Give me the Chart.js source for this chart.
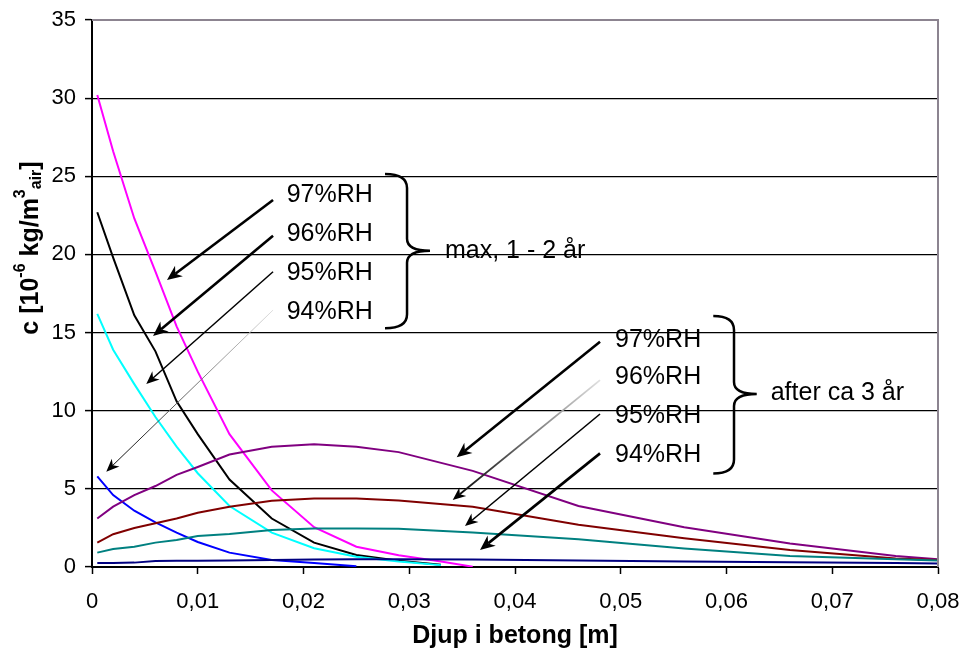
<!DOCTYPE html>
<html><head><meta charset="utf-8">
<script src="https://cdn.jsdelivr.net/npm/chart.js@4/dist/chart.umd.min.js"></script>
<style>html,body{margin:0;padding:0;background:#fff}#wrap{width:964px;height:655px;position:relative}</style>
</head><body><div id="wrap"><canvas id="c" width="964" height="655"></canvas></div>
<script>
// ---- data (depth in m, concentration in 10^-6 kg/m3 air) ----
const depthMax   = [0.0005,0.002,0.004,0.006,0.008,0.010,0.013,0.017,0.021,0.025,0.029,0.033,0.036];
const rh97Max    = [30.2,26.6,22.3,18.9,15.4,12.5,8.5,4.9,2.55,1.3,0.75,0.35,0.02];
const depthMax2  = [0.0005,0.002,0.004,0.006,0.008,0.010,0.013,0.017,0.021,0.025,0.029,0.033];
const rh96Max    = [22.7,19.8,16.1,13.8,10.6,8.5,5.6,3.1,1.56,0.77,0.4,0.15];
const rh95Max    = [16.2,13.9,11.7,9.6,7.7,6.0,3.9,2.2,1.2,0.66,0.35,0.12];
const depthMax94 = [0.0005,0.002,0.004,0.006,0.008,0.010,0.013,0.017,0.021,0.025];
const rh94Max    = [5.8,4.6,3.6,2.85,2.2,1.6,0.92,0.45,0.25,0.05];
const depthLate  = [0.0005,0.002,0.004,0.006,0.008,0.010,0.013,0.017,0.021,0.025,0.029,0.036,0.046,0.056,0.066,0.076,0.08];
const rh97Late   = [3.1,3.86,4.6,5.18,5.9,6.4,7.2,7.7,7.85,7.7,7.35,6.15,3.9,2.55,1.5,0.7,0.5];
const rh96Late   = [1.56,2.1,2.5,2.8,3.1,3.47,3.86,4.24,4.39,4.39,4.25,3.86,2.7,1.84,1.09,0.55,0.45];
const rh95Late   = [0.92,1.15,1.3,1.56,1.73,1.98,2.11,2.37,2.47,2.47,2.45,2.2,1.77,1.19,0.7,0.49,0.42];
const rh94Late   = [0.25,0.25,0.28,0.38,0.4,0.4,0.42,0.45,0.48,0.5,0.5,0.48,0.42,0.35,0.3,0.25,0.22];
const rhLabels   = ["97%RH","96%RH","95%RH","94%RH"];
const groupLabels = ["max, 1 - 2 år","after ca 3 år"];
const xTicks = [0,0.01,0.02,0.03,0.04,0.05,0.06,0.07,0.08];

function pts(xs, ys){ return xs.map((x,i)=>({x:x,y:ys[i]})); }
function ds(label, xs, ys, color){
  return {label:label, data:pts(xs,ys), borderColor:color, backgroundColor:color,
          borderWidth:2, pointRadius:0, showLine:true, tension:0, fill:false};
}

// annotation geometry (data units)
const annot = {
  arrows: [
    {x1:0.01712,y1:23.48,x2:0.00709,y2:18.36,w:2.6,g:false},
    {x1:0.01712,y1:21.20,x2:0.00577,y2:14.78,w:2.6,g:false},
    {x1:0.01712,y1:18.89,x2:0.00513,y2:11.71,w:1.5,g:false},
    {x1:0.01712,y1:16.44,x2:0.00135,y2:6.10,w:1,g:true},
    {x1:0.04804,y1:14.41,x2:0.03449,y2:7.02,w:2.6,g:false},
    {x1:0.04804,y1:11.96,x2:0.03411,y2:4.29,w:1.8,g:true},
    {x1:0.04804,y1:9.79,x2:0.03527,y2:2.62,w:1.6,g:false},
    {x1:0.04804,y1:7.27,x2:0.03669,y2:1.09,w:2.6,g:false}
  ],
  labelsMax: {x:0.01841, ys:[23.8,21.3,18.8,16.3]},
  labelsLate:{x:0.04946, ys:[14.52,12.18,9.66,7.17]},
  groupPos: [{x:0.03338,y:20.24},{x:0.06418,y:11.13}],
  braces: [
    {x0:0.02771,x1:0.02979,xt:0.03196,yTop:25.14,yMid:20.24,yBot:15.27},
    {x0:0.05875,x1:0.06071,xt:0.06286,yTop:16.06,yMid:11.07,yBot:5.99}
  ]
};

const FONT = '"Liberation Sans", Arial, sans-serif';

function arrow(ctx, x1,y1,x2,y2,w,grad){
  const ang = Math.atan2(y2-y1, x2-x1);
  const L = w>2 ? 15 : 13, W = w>2 ? 6.5 : 5.5;
  const bx = x2 - Math.cos(ang)*L*0.7, by = y2 - Math.sin(ang)*L*0.7;
  ctx.save();
  if(grad){
    const g = ctx.createLinearGradient(x1,y1,x2,y2);
    g.addColorStop(0,'#e0e0e0'); g.addColorStop(1,'#000');
    ctx.strokeStyle = g;
  } else ctx.strokeStyle = '#000';
  ctx.lineWidth = w;
  ctx.beginPath(); ctx.moveTo(x1,y1); ctx.lineTo(bx,by); ctx.stroke();
  ctx.fillStyle='#000';
  const cx = x2 - Math.cos(ang)*L, cy = y2 - Math.sin(ang)*L;
  const px = -Math.sin(ang), py = Math.cos(ang);
  ctx.beginPath();
  ctx.moveTo(x2,y2);
  ctx.lineTo(cx + px*W, cy + py*W);
  ctx.lineTo(bx, by);
  ctx.lineTo(cx - px*W, cy - py*W);
  ctx.closePath(); ctx.fill();
  ctx.restore();
}

const annPlugin = {
  id:'ann',
  afterDraw(chart){
    const ctx = chart.ctx, xs = chart.scales.x, ys = chart.scales.y, a = chart.chartArea;
    const X = v=>xs.getPixelForValue(v), Y = v=>ys.getPixelForValue(v);
    ctx.save();
    // top/right border
    ctx.strokeStyle='#8c8490'; ctx.lineWidth=2;
    ctx.beginPath(); ctx.moveTo(a.left,a.top); ctx.lineTo(a.right,a.top); ctx.lineTo(a.right,a.bottom); ctx.stroke();
    // arrows
    annot.arrows.forEach(r=>arrow(ctx,X(r.x1),Y(r.y1),X(r.x2),Y(r.y2),r.w,r.g));
    // labels
    ctx.fillStyle='#000'; ctx.font='25px '+FONT; ctx.textBaseline='middle'; ctx.textAlign='left';
    annot.labelsMax.ys.forEach((y,i)=>ctx.fillText(rhLabels[i], X(annot.labelsMax.x), Y(y)));
    annot.labelsLate.ys.forEach((y,i)=>ctx.fillText(rhLabels[i], X(annot.labelsLate.x), Y(y)));
    annot.groupPos.forEach((p,i)=>ctx.fillText(groupLabels[i], X(p.x), Y(p.y)));
    // braces
    ctx.strokeStyle='#000'; ctx.lineWidth=2.5;
    annot.braces.forEach(b=>{
      const x0=X(b.x0),x1=X(b.x1),xt=X(b.xt),yt=Y(b.yTop),ym=Y(b.yMid),yb=Y(b.yBot);
      ctx.beginPath();
      ctx.moveTo(x0,yt);
      ctx.quadraticCurveTo(x1,yt,x1,yt+14);
      ctx.lineTo(x1,ym-12);
      ctx.quadraticCurveTo(x1,ym,xt,ym);
      ctx.moveTo(xt,ym);
      ctx.quadraticCurveTo(x1,ym,x1,ym+12);
      ctx.lineTo(x1,yb-14);
      ctx.quadraticCurveTo(x1,yb,x0,yb);
      ctx.stroke();
    });
    // x title
    ctx.font='bold 25px '+FONT; ctx.textAlign='center'; ctx.textBaseline='middle';
    ctx.fillText('Djup i betong [m]', (a.left+a.right)/2, 636);
    // y title with super/subscripts
    ctx.translate(31, 248); ctx.rotate(-Math.PI/2);
    const big='bold 25px '+FONT, small='bold 16px '+FONT;
    const parts=[['c [10',big,0],['-6',small,-10],[' kg/m',big,0],['3',small,-10],['air',small,6],[']',big,0]];
    let tot=0; parts.forEach(p=>{ctx.font=p[1]; tot+=ctx.measureText(p[0]).width;});
    let cx=-tot/2; ctx.textAlign='left';
    parts.forEach(p=>{ctx.font=p[1]; ctx.fillText(p[0],cx,p[2]); cx+=ctx.measureText(p[0]).width;});
    ctx.restore();
  }
};

new Chart(document.getElementById('c'), {
  type:'scatter',
  data:{ datasets:[
    ds('94%RH 3 år', depthLate, rh94Late, '#000080'),
    ds('95%RH 3 år', depthLate, rh95Late, '#008080'),
    ds('96%RH 3 år', depthLate, rh96Late, '#800000'),
    ds('97%RH 3 år', depthLate, rh97Late, '#800080'),
    ds('94%RH max', depthMax94, rh94Max, '#0000ff'),
    ds('95%RH max', depthMax2, rh95Max, '#00ffff'),
    ds('96%RH max', depthMax2, rh96Max, '#000000'),
    ds('97%RH max', depthMax, rh97Max, '#ff00ff')
  ]},
  options:{
    responsive:false, animation:false,
    layout:{padding:{top:20,right:26,left:0,bottom:0}},
    plugins:{legend:{display:false}, tooltip:{enabled:false}},
    scales:{
      x:{type:'linear', min:0, max:0.08,
         afterBuildTicks(s){ s.ticks = xTicks.map(v=>({value:v})); },
         afterFit(s){ s.height=88; s.paddingLeft=0; s.paddingRight=0; },
         border:{display:true,color:'#000',width:2},
         grid:{drawOnChartArea:false, drawTicks:true, tickLength:7, color:'#000', tickColor:'#000', tickWidth:1.5},
         ticks:{color:'#000', font:{family:FONT,size:22}, padding:15, maxRotation:0,
                callback:v=> v===0 ? '0' : v.toFixed(2).replace('.',',')}},
      y:{min:0, max:35,
         ticks:{stepSize:5, color:'#000', font:{family:FONT,size:22}, padding:9},
         afterFit(s){ s.width=92; s.paddingTop=0; s.paddingBottom=0; },
         border:{display:true,color:'#000',width:2},
         grid:{color:'#000', lineWidth:1.2, tickLength:7, tickColor:'#000', tickWidth:1.5}}
    }
  },
  plugins:[annPlugin]
});
</script></body></html>
